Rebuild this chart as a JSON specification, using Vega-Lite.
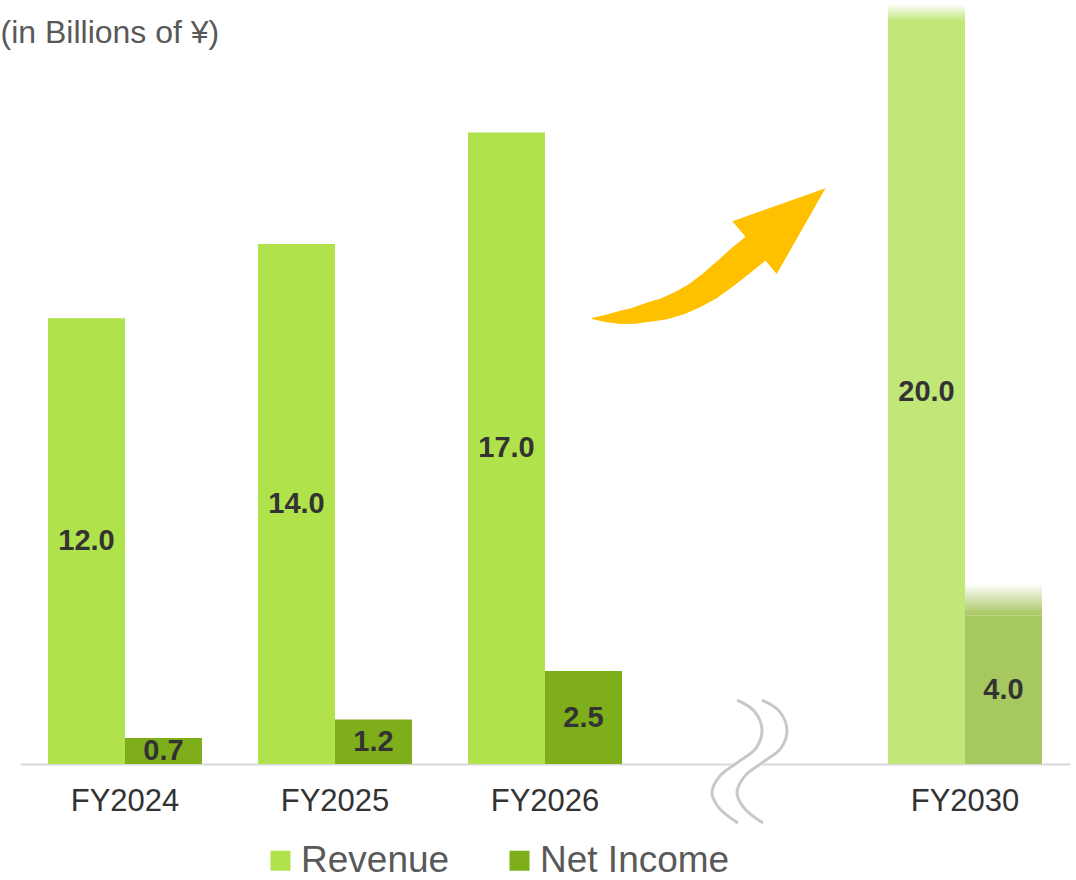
{
  "$schema": "https://vega.github.io/schema/vega-lite/v6.json",
  "width": 1050,
  "height": 764,
  "autosize": {"type": "none"},
  "padding": {"left": 20, "top": 0, "right": 6, "bottom": 116},
  "background": "white",
  "config": {"font": "Liberation Sans", "view": {"stroke": null}},
  "datasets": {
    "bars": [
      {"year": "FY2024", "series": "Revenue", "value": 12.0},
      {"year": "FY2024", "series": "Net Income", "value": 0.7},
      {"year": "FY2025", "series": "Revenue", "value": 14.0},
      {"year": "FY2025", "series": "Net Income", "value": 1.2},
      {"year": "FY2026", "series": "Revenue", "value": 17.0},
      {"year": "FY2026", "series": "Net Income", "value": 2.5},
      {"year": "FY2030", "series": "Revenue", "value": 20.0},
      {"year": "FY2030", "series": "Net Income", "value": 4.0}
    ],
    "fade": [
      {"year": "FY2030", "series": "Revenue", "lo": 20.0, "hi": 20.46},
      {"year": "FY2030", "series": "Net Income", "lo": 4.0, "hi": 4.86}
    ],
    "squiggle": [
      {"curve": "A", "i": 0, "sx": 717, "sy": 1.72},
      {"curve": "A", "i": 1, "sx": 734, "sy": 1.43},
      {"curve": "A", "i": 2, "sx": 742, "sy": 0.92},
      {"curve": "A", "i": 3, "sx": 736, "sy": 0.43},
      {"curve": "A", "i": 4, "sx": 718, "sy": 0.05},
      {"curve": "A", "i": 5, "sx": 700, "sy": -0.32},
      {"curve": "A", "i": 6, "sx": 692, "sy": -0.77},
      {"curve": "A", "i": 7, "sx": 699, "sy": -1.18},
      {"curve": "A", "i": 8, "sx": 718, "sy": -1.59},
      {"curve": "B", "i": 0, "sx": 742, "sy": 1.72},
      {"curve": "B", "i": 1, "sx": 759, "sy": 1.43},
      {"curve": "B", "i": 2, "sx": 767, "sy": 0.92},
      {"curve": "B", "i": 3, "sx": 761, "sy": 0.43},
      {"curve": "B", "i": 4, "sx": 743, "sy": 0.05},
      {"curve": "B", "i": 5, "sx": 725, "sy": -0.32},
      {"curve": "B", "i": 6, "sx": 717, "sy": -0.77},
      {"curve": "B", "i": 7, "sx": 724, "sy": -1.18},
      {"curve": "B", "i": 8, "sx": 743, "sy": -1.59}
    ],
    "mask": [
      {"i": 0, "sx": 754.5, "sy": 0.92},
      {"i": 1, "sx": 748.5, "sy": 0.43},
      {"i": 2, "sx": 730.5, "sy": 0.05},
      {"i": 3, "sx": 712.5, "sy": -0.32},
      {"i": 4, "sx": 704.5, "sy": -0.77}
    ],
    "arrow": [
      {"i": 0, "sx": 572, "sy": 11.99, "w": 1},
      {"i": 1, "sx": 585, "sy": 11.99, "w": 7},
      {"i": 2, "sx": 600, "sy": 12.02, "w": 13},
      {"i": 3, "sx": 615, "sy": 12.07, "w": 16.5},
      {"i": 4, "sx": 630, "sy": 12.17, "w": 19.5},
      {"i": 5, "sx": 645, "sy": 12.26, "w": 21.7},
      {"i": 6, "sx": 660, "sy": 12.41, "w": 24},
      {"i": 7, "sx": 675, "sy": 12.61, "w": 25.5},
      {"i": 8, "sx": 690, "sy": 12.87, "w": 28},
      {"i": 9, "sx": 705, "sy": 13.19, "w": 29.7},
      {"i": 10, "sx": 720, "sy": 13.53, "w": 31},
      {"i": 11, "sx": 735, "sy": 13.86, "w": 31}
    ],
    "head": [
      {"sx": 770, "sy": 14.70}
    ]
  },
  "layer": [
    {
      "data": {"name": "bars"},
      "mark": {"type": "bar"},
      "encoding": {
        "x": {
          "field": "year", "type": "nominal", "sort": null,
          "scale": {"domain": ["FY2024", "FY2025", "FY2026", "gap", "FY2030"], "paddingInner": 0.2667, "paddingOuter": 0.1333},
          "axis": {
            "title": null,
            "labelExpr": "datum.value === 'gap' ? '' : datum.value",
            "labelFontSize": 31, "labelColor": "#333333", "labelPadding": 22,
            "labelAngle": 0, "ticks": false, "grid": false,
            "domainColor": "#d9d9d9", "domainWidth": 2
          }
        },
        "xOffset": {"field": "series", "type": "nominal", "scale": {"domain": ["Revenue", "Net Income"], "paddingInner": 0, "paddingOuter": 0}},
        "y": {
          "field": "value", "type": "quantitative",
          "scale": {"domain": [0, 20.565], "nice": false},
          "axis": {
            "title": "(in Billions of ¥)", "titleAngle": 0, "titleAlign": "left",
            "titleBaseline": "alphabetic", "titleX": -20, "titleY": 42,
            "titleFontSize": 32, "titleColor": "#595959", "titleFontWeight": "normal",
            "labels": false, "ticks": false, "domain": false, "grid": false
          }
        },
        "color": {
          "field": "series", "type": "nominal",
          "scale": {"domain": ["Revenue", "Net Income"], "range": ["#b0e24b", "#7fae1b"]},
          "condition": [
            {"test": "datum.year === 'FY2030' && datum.series === 'Revenue'", "value": "#c2e779"},
            {"test": "datum.year === 'FY2030' && datum.series === 'Net Income'", "value": "#a7c75f"}
          ],
          "legend": {
            "title": null, "orient": "none", "legendX": 242, "legendY": 842,
            "direction": "horizontal", "symbolType": "square", "symbolSize": 400,
            "symbolStrokeWidth": 0, "labelFontSize": 37, "labelColor": "#595959",
            "labelOffset": 2, "columnPadding": 51, "padding": 0, "labelLimit": 400
          }
        }
      }
    },
    {
      "data": {"name": "fade"},
      "transform": [{"filter": "datum.series === 'Revenue'"}],
      "mark": {"type": "bar", "color": {"gradient": "linear", "x1": 0, "y1": 1, "x2": 0, "y2": 0, "stops": [{"offset": 0, "color": "#c2e779"}, {"offset": 1, "color": "#ffffff"}]}},
      "encoding": {
        "x": {"field": "year", "type": "nominal", "sort": null, "scale": {"domain": ["FY2024", "FY2025", "FY2026", "gap", "FY2030"], "paddingInner": 0.2667, "paddingOuter": 0.1333}, "axis": null},
        "xOffset": {"field": "series", "type": "nominal"},
        "y": {"field": "lo", "type": "quantitative", "scale": {"domain": [0, 20.565], "nice": false}},
        "y2": {"field": "hi"}
      }
    },
    {
      "data": {"name": "fade"},
      "transform": [{"filter": "datum.series === 'Net Income'"}],
      "mark": {"type": "bar", "color": {"gradient": "linear", "x1": 0, "y1": 1, "x2": 0, "y2": 0, "stops": [{"offset": 0, "color": "#a7c75f"}, {"offset": 1, "color": "#ffffff"}]}},
      "encoding": {
        "x": {"field": "year", "type": "nominal", "sort": null, "scale": {"domain": ["FY2024", "FY2025", "FY2026", "gap", "FY2030"], "paddingInner": 0.2667, "paddingOuter": 0.1333}, "axis": null},
        "xOffset": {"field": "series", "type": "nominal"},
        "y": {"field": "lo", "type": "quantitative", "scale": {"domain": [0, 20.565], "nice": false}},
        "y2": {"field": "hi"}
      }
    },
    {
      "data": {"name": "bars"},
      "transform": [{"calculate": "datum.value / 2", "as": "mid"}],
      "mark": {"type": "text", "fontWeight": "bold", "fontSize": 29, "color": "#333333", "align": "center", "baseline": "middle"},
      "encoding": {
        "x": {"field": "year", "type": "nominal", "sort": null, "scale": {"domain": ["FY2024", "FY2025", "FY2026", "gap", "FY2030"], "paddingInner": 0.2667, "paddingOuter": 0.1333}, "axis": null},
        "xOffset": {"field": "series", "type": "nominal"},
        "y": {"field": "mid", "type": "quantitative", "scale": {"domain": [0, 20.565], "nice": false}},
        "text": {"field": "value", "type": "quantitative", "format": ".1f"}
      }
    },
    {
      "data": {"name": "mask"},
      "mark": {"type": "line", "color": "#ffffff", "strokeWidth": 18, "interpolate": "catmull-rom", "clip": false},
      "encoding": {
        "x": {"field": "sx", "type": "quantitative", "scale": {"domain": [0, 1050], "nice": false, "zero": false}, "axis": null},
        "y": {"field": "sy", "type": "quantitative", "scale": {"domain": [0, 20.565], "nice": false}},
        "order": {"field": "i", "type": "quantitative"}
      }
    },
    {
      "data": {"name": "squiggle"},
      "mark": {"type": "line", "color": "#c8c8c8", "strokeWidth": 3, "interpolate": "catmull-rom", "clip": false},
      "encoding": {
        "x": {"field": "sx", "type": "quantitative", "scale": {"domain": [0, 1050], "nice": false, "zero": false}, "axis": null},
        "y": {"field": "sy", "type": "quantitative", "scale": {"domain": [0, 20.565], "nice": false}},
        "detail": {"field": "curve", "type": "nominal"},
        "order": {"field": "i", "type": "quantitative"}
      }
    },
    {
      "data": {"name": "arrow"},
      "mark": {"type": "trail", "color": "#ffc000", "clip": false},
      "encoding": {
        "x": {"field": "sx", "type": "quantitative", "scale": {"domain": [0, 1050], "nice": false, "zero": false}, "axis": null},
        "y": {"field": "sy", "type": "quantitative", "scale": {"domain": [0, 20.565], "nice": false}},
        "size": {"field": "w", "type": "quantitative", "scale": null, "legend": null},
        "order": {"field": "i", "type": "quantitative"}
      }
    },
    {
      "data": {"name": "head"},
      "mark": {"type": "point", "shape": "M0,-1L0.745,1L-0.745,1Z", "size": 8575, "angle": 50, "filled": true, "color": "#ffc000", "opacity": 1, "strokeWidth": 0, "clip": false},
      "encoding": {
        "x": {"field": "sx", "type": "quantitative", "scale": {"domain": [0, 1050], "nice": false, "zero": false}, "axis": null},
        "y": {"field": "sy", "type": "quantitative", "scale": {"domain": [0, 20.565], "nice": false}}
      }
    }
  ],
  "resolve": {"scale": {"x": "independent"}}
}
